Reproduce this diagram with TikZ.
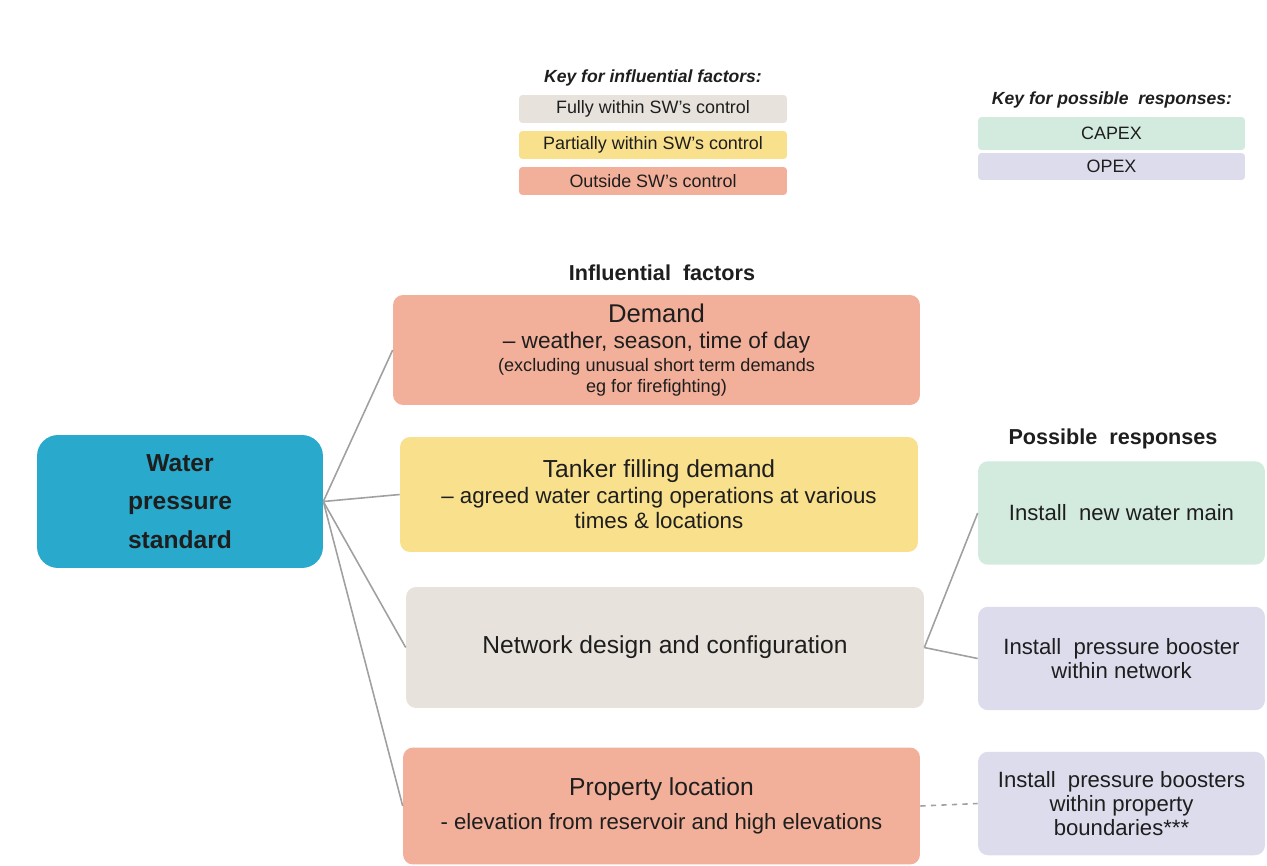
\documentclass[tikz,border=0pt]{standalone}
\usepackage{fontspec}
\setmainfont{Liberation Sans}
\usepackage{tikz}

\definecolor{waterblue}{HTML}{29A9CC}
\definecolor{outsidec}{HTML}{F2AF99}
\definecolor{partialc}{HTML}{F8E08C}
\definecolor{fullyc}{HTML}{E7E2DC}
\definecolor{capexc}{HTML}{D3EBDF}
\definecolor{opexc}{HTML}{DDDCEC}
\definecolor{inkc}{HTML}{1E1E1E}
\definecolor{linkc}{HTML}{A0A0A0}

\begin{document}
\begin{tikzpicture}[x=0.02cm,y=-0.02cm]
	\tikzstyle{every node}+=[inner sep=0pt, text=inkc, align=center]
	\tikzstyle{keybox}=[rounded corners=2pt, minimum width=5.36cm, minimum height=0.56cm, font=\fontsize{10.2}{12}\selectfont]
	\tikzstyle{factor}=[rounded corners=0.2cm, minimum width=10.4cm]
	\tikzstyle{response}=[rounded corners=0.2cm, minimum width=5.74cm, minimum height=2.07cm, font=\fontsize{12.6}{13.5}\selectfont]
	\tikzstyle{heading}=[font=\bfseries\fontsize{12.3}{14}\selectfont]
	\tikzstyle{keyhead}=[font=\bfseries\itshape\fontsize{10}{12}\selectfont]
	\tikzstyle{link}=[draw=linkc, line width=0.9pt]
	\useasboundingbox (0,0) rectangle (1267,865);
	% keys
	\node [keyhead] (keyf) at (653,78) {Key for influential factors:};
	\node [keybox, fill=fullyc] (keyfully) at (653,109) {Fully within SW's control};
	\node [keybox, fill=partialc] (keypart) at (653,145) {Partially within SW's control};
	\node [keybox, fill=outsidec] (keyout) at (653,181) {Outside SW's control};
	\node [keyhead] (keyr) at (1112,100) {Key for possible\ \ responses:};
	\node [keybox, fill=capexc, minimum width=5.34cm, minimum height=0.66cm] (keycapex) at (1111.5,133.5) {CAPEX};
	\node [keybox, fill=opexc, minimum width=5.34cm, minimum height=0.54cm] (keyopex) at (1111.5,166.5) {OPEX};
	% headings
	\node [heading] (hfactors) at (662,273) {Influential\ \ factors};
	\node [heading] (hresp) at (1113,439) {Possible\ \ responses};
	% standard
	\node [fill=waterblue, rounded corners=0.42cm, minimum width=5.72cm, minimum height=2.66cm,
		font=\bfseries\fontsize{14}{22}\selectfont] (water) at (180,501.5) {Water\\pressure\\standard};
	% influential factors
	\node [factor, fill=outsidec, minimum width=10.54cm, minimum height=2.2cm] (demand) at (656.5,350)
		{{\fontsize{14.6}{17}\selectfont Demand}\\[3pt]
		{\fontsize{12.9}{15}\selectfont -- weather, season, time of day}\\[1pt]
		{\fontsize{10.3}{9}\selectfont (excluding unusual short term demands}\\
		{\fontsize{10.3}{9}\selectfont eg for firefighting)}};
	\node [factor, fill=partialc, minimum width=10.36cm, minimum height=2.3cm,
		font=\fontsize{12.7}{14.5}\selectfont] (tanker) at (659,494.5)
		{{\fontsize{14}{16}\selectfont Tanker filling demand}\\
		-- agreed water carting operations at various\\times \& locations};
	\node [factor, fill=fullyc, minimum width=10.36cm, minimum height=2.42cm,
		font=\fontsize{14}{16}\selectfont] (network) at (665,647.5) {Network design and configuration};
	\node [factor, fill=outsidec, minimum width=10.34cm, minimum height=2.34cm] (property) at (661.5,806)
		{{\fontsize{14}{16}\selectfont Property location}\\[6pt]
		{\fontsize{12.6}{14}\selectfont - elevation from reservoir and high elevations}};
	% possible responses
	\node [response, fill=capexc] (newmain) at (1121.5,513) {Install\ \ new water main};
	\node [response, fill=opexc] (netbooster) at (1121.5,658.5) {Install\ \ pressure booster\\within network};
	\node [response, fill=opexc] (propbooster) at (1121.5,803.5) {Install\ \ pressure boosters\\within property\\boundaries***};
	% connectors
	\draw [link] (water.east) -- (demand.west);
	\draw [link] (water.east) -- (tanker.west);
	\draw [link] (water.east) -- (network.west);
	\draw [link] (water.east) -- (property.west);
	\draw [link] (network.east) -- (newmain.west);
	\draw [link] (network.east) -- (netbooster.west);
	\draw [link, dashed] (property.east) -- (propbooster.west);
\end{tikzpicture}
\end{document}
